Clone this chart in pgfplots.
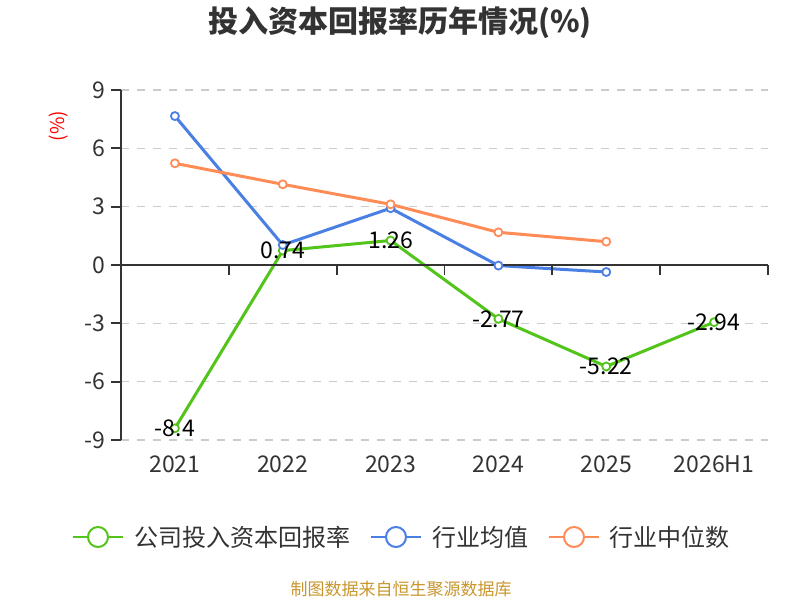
\documentclass[border=0pt]{standalone}
\usepackage{fontspec}
\setmainfont{Noto Sans CJK SC}
\usepackage{pgfplots}
\pgfplotsset{compat=1.18}
\definecolor{cgreen}{HTML}{52C41A}
\definecolor{cblue}{HTML}{4A7FE3}
\definecolor{corange}{HTML}{FF8C57}
\definecolor{caxis}{HTML}{333333}
\definecolor{cgrid}{HTML}{CCCCCC}
\definecolor{csrc}{HTML}{C8962D}
\begin{document}
\begin{tikzpicture}[x=1pt,y=1pt]
\useasboundingbox (0,0) rectangle (800,600);
\begin{axis}[at={(121pt,160pt)}, anchor=south west, scale only axis,
  width=647pt, height=350pt,
  xmin=-0.5, xmax=5.5, ymin=-9, ymax=9,
  axis y line*=left, axis x line*=bottom,
  x axis line style={draw=none},
  ytick={-9,-6,-3,0,3,6,9}, yticklabels={-9,-6,-3,0,3,6,9},
  xtick={0,1,2,3,4,5}, xticklabels={2021,2022,2023,2024,2025,2026H1},
  major x tick style={draw=none},
  tick align=outside, major tick length=10pt,
  y axis line style={caxis, line width=1.8pt},
  ytick style={caxis, line width=1.8pt},
  ymajorgrids, grid style={cgrid, line width=1.6pt, dash pattern=on 8pt off 8pt},
  ticklabel style={font=\fontsize{23}{26}\selectfont, text=caxis},
  yticklabel style={xshift=-2pt},
  xticklabel style={yshift=-2pt},
  clip=false,
]
\addplot[cgreen, line width=3pt, mark=*, mark size=4pt, mark options={fill=white, line width=1.8pt}]
  coordinates {(0,-8.4)(1,0.74)(2,1.26)(3,-2.77)(4,-5.22)(5,-2.94)};
\addplot[cblue, line width=3pt, mark=*, mark size=4pt, mark options={fill=white, line width=1.8pt}]
  coordinates {(0,7.66)(1,1.03)(2,2.92)(3,-0.03)(4,-0.36)};
\addplot[corange, line width=3pt, mark=*, mark size=4pt, mark options={fill=white, line width=1.8pt}]
  coordinates {(0,5.23)(1,4.15)(2,3.12)(3,1.68)(4,1.2)};
\draw[caxis, line width=1.8pt] (axis cs:-0.5,0) -- (axis cs:5.5,0);
\pgfplotsinvokeforeach{0.5,1.5,2.5,3.5,4.5,5.5}{
  \draw[caxis, line width=1.8pt] (axis cs:#1,0) -- ([yshift=-10pt]axis cs:#1,0);
}
\addplot[draw=none, mark=none, nodes near coords, point meta=explicit symbolic,
  nodes near coords style={anchor=center, font=\fontsize{23}{26}\selectfont, text=black}]
  coordinates {(0,-8.4)[-8.4] (1,0.74)[0.74] (2,1.26)[1.26] (3,-2.77)[-2.77] (4,-5.22)[-5.22] (5,-2.94)[-2.94]};
\end{axis}
\node[font=\bfseries\fontsize{30}{33}\selectfont, text=caxis] at (400,577) {投入资本回报率历年情况(\%)};
\node[rotate=90, text=red, font=\fontsize{19}{22}\selectfont] at (59,474) {(\%)};
\draw[cgreen, line width=2pt] (73,63) -- (123,63);
\draw[cgreen, line width=2pt, fill=white] (98,63) circle (10);
\node[anchor=west, inner sep=0, font=\fontsize{24}{27}\selectfont, text=caxis] at (134,63) {公司投入资本回报率};
\draw[cblue, line width=2pt] (371,63) -- (421,63);
\draw[cblue, line width=2pt, fill=white] (396,63) circle (10);
\node[anchor=west, inner sep=0, font=\fontsize{24}{27}\selectfont, text=caxis] at (432,63) {行业均值};
\draw[corange, line width=2pt] (549,63) -- (599,63);
\draw[corange, line width=2pt, fill=white] (574,63) circle (10);
\node[anchor=west, inner sep=0, font=\fontsize{24}{27}\selectfont, text=caxis] at (609,63) {行业中位数};
\node[text=csrc, font=\fontsize{17}{20}\selectfont] at (401,11) {制图数据来自恒生聚源数据库};
\end{tikzpicture}
\end{document}
